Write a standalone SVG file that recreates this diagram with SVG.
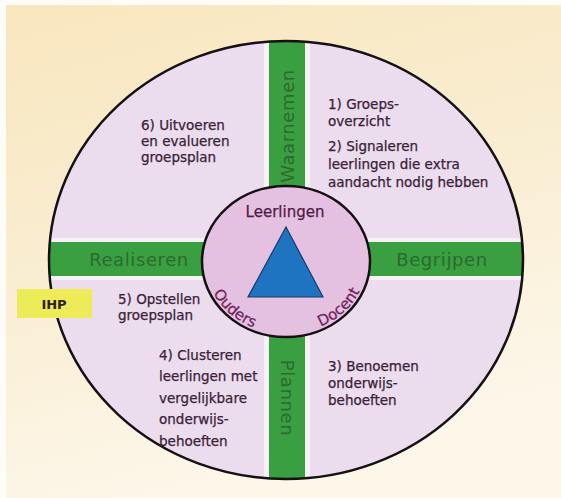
<svg xmlns="http://www.w3.org/2000/svg" width="561" height="498" viewBox="0 0 561 498">
  <defs>
    <linearGradient id="bg" x1="0" y1="0" x2="0.3" y2="1">
      <stop offset="0" stop-color="#f8e6bd"/>
      <stop offset="0.6" stop-color="#faefd6"/>
      <stop offset="1" stop-color="#fdf7ea"/>
    </linearGradient>
    <clipPath id="outerClip">
      <ellipse cx="286" cy="260" rx="237" ry="219"/>
    </clipPath>
    <path id="arcBottom" d="M 205 261.5 A 81 72 0 0 0 367 261.5"/>
    <style>
      .t { font-family: "DejaVu Sans", Verdana, sans-serif; font-size: 13.5px; fill: #3a2238; stroke: #3a2238; stroke-width: 0.25px; }
      .bar { fill: #3a9f40; }
      .halo { fill: #f6f0f7; }
      .barlbl { font-family: "DejaVu Sans", Verdana, sans-serif; font-size: 18px; letter-spacing: 0.6px; fill: #2c6a30; text-anchor: middle; }
      .inner { font-family: "DejaVu Sans", Verdana, sans-serif; font-size: 15px; fill: #6e1f58; text-anchor: middle; stroke: #6e1f58; stroke-width: 0.25px; }
    </style>
  </defs>

  <rect x="0" y="0" width="561" height="498" fill="#fefcf6"/>
  <rect x="6" y="5" width="555" height="493" fill="url(#bg)"/>

  <g id="outer">
    <ellipse cx="286" cy="260" rx="237" ry="219" fill="#ebdcee"/>
    <g clip-path="url(#outerClip)">
      <rect class="halo" x="264" y="30" width="46" height="460"/>
      <rect class="halo" x="40" y="238" width="490" height="42"/>
    </g>
  </g>

  <g id="bar-waarnemen">
    <rect class="bar" x="269" y="40" width="36" height="150" clip-path="url(#outerClip)"/>
    <text class="barlbl" transform="translate(293.5,126) rotate(-90)">Waarnemen</text>
  </g>
  <g id="bar-plannen">
    <rect class="bar" x="269" y="330" width="36" height="150" clip-path="url(#outerClip)"/>
    <text class="barlbl" transform="translate(280.5,398) rotate(90)">Plannen</text>
  </g>
  <g id="bar-realiseren">
    <rect class="bar" x="40" y="242" width="170" height="34" clip-path="url(#outerClip)"/>
    <text class="barlbl" x="139" y="265.5">Realiseren</text>
  </g>
  <g id="bar-begrijpen">
    <rect class="bar" x="362" y="242" width="170" height="34" clip-path="url(#outerClip)"/>
    <text class="barlbl" x="442" y="265.5">Begrijpen</text>
  </g>

  <g id="outer-border">
    <ellipse cx="286" cy="260" rx="237" ry="219" fill="none" stroke="#141014" stroke-width="2.5"/>
  </g>

  <g id="center">
    <ellipse cx="286" cy="261.5" rx="84" ry="75.5" fill="#e4c1e1" stroke="#141014" stroke-width="2.5"/>
    <polygon points="286,227 248,297 323,297" fill="#1f74c2" stroke="#163a6a" stroke-width="1.2"/>
    <text class="inner" x="285" y="217" fill="#4e1c44" style="fill:#4e1c44;stroke:#4e1c44">Leerlingen</text>
    <text class="inner"><textPath href="#arcBottom" startOffset="25%">Ouders</textPath></text>
    <text class="inner"><textPath href="#arcBottom" startOffset="76%">Docent</textPath></text>
  </g>

  <g id="step-6">
    <text class="t" x="141" y="130">6) Uitvoeren</text>
    <text class="t" x="141" y="146">en evalueren</text>
    <text class="t" x="141" y="162">groepsplan</text>
  </g>
  <g id="step-1-2">
    <text class="t" x="328" y="109">1) Groeps-</text>
    <text class="t" x="328" y="126">overzicht</text>
    <text class="t" x="328" y="151">2) Signaleren</text>
    <text class="t" x="328" y="169">leerlingen die extra</text>
    <text class="t" x="328" y="187">aandacht nodig hebben</text>
  </g>
  <g id="step-5">
    <text class="t" x="118" y="304">5) Opstellen</text>
    <text class="t" x="118" y="320">groepsplan</text>
  </g>
  <g id="step-4">
    <text class="t" x="159" y="360">4) Clusteren</text>
    <text class="t" x="159" y="381">leerlingen met</text>
    <text class="t" x="159" y="403">vergelijkbare</text>
    <text class="t" x="159" y="424">onderwijs-</text>
    <text class="t" x="159" y="446">behoeften</text>
  </g>
  <g id="step-3">
    <text class="t" x="328" y="371">3) Benoemen</text>
    <text class="t" x="328" y="388">onderwijs-</text>
    <text class="t" x="328" y="405">behoeften</text>
  </g>

  <g id="ihp">
    <rect x="17" y="289" width="75" height="29" fill="#eeeb58"/>
    <text x="54" y="309" text-anchor="middle" font-family="DejaVu Sans, Verdana, sans-serif" font-size="13" font-weight="bold" fill="#2a2020">IHP</text>
  </g>
</svg>
